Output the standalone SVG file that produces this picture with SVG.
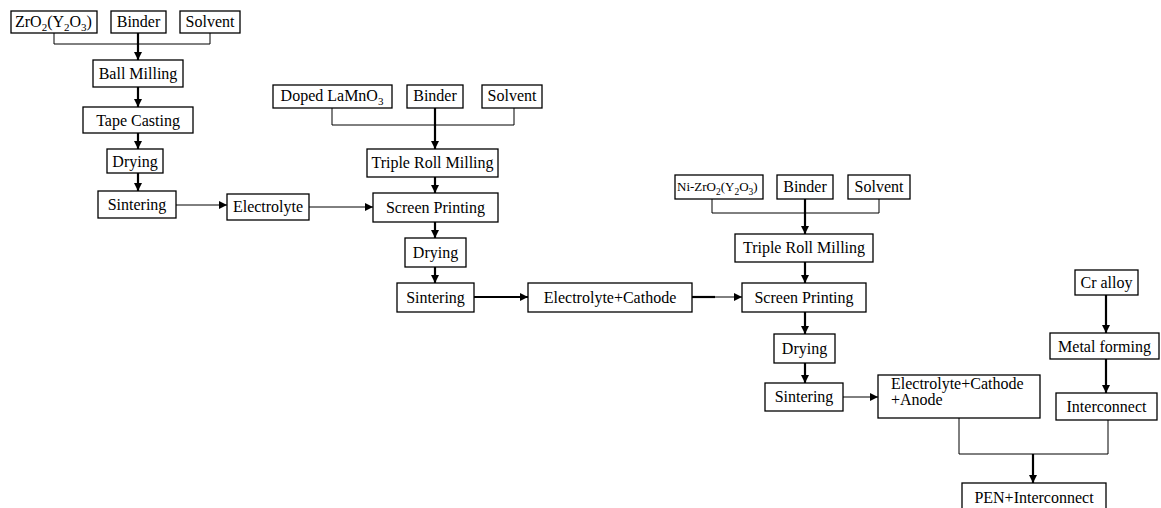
<svg xmlns="http://www.w3.org/2000/svg" width="1161" height="508" viewBox="0 0 1161 508">
<defs>
<style>
.box{fill:#fff;stroke:#000;stroke-width:1.3}
.t{font-family:'Liberation Serif','Times New Roman','DejaVu Serif',serif;font-size:16px;fill:#000}
.c{text-anchor:middle}
.thin{fill:none;stroke:#000;stroke-width:1}
.thick{fill:none;stroke:#000;stroke-width:2.2}
</style>
<marker id="ah" viewBox="0 0 8 8" refX="8" refY="4" markerWidth="8" markerHeight="8" markerUnits="userSpaceOnUse" orient="auto">
<path d="M0,0 L8,4 L0,8 Z" fill="#000"/>
</marker>
</defs>
<rect width="1161" height="508" fill="#fff"/>

<g id="connectors">
<path class="thin" d="M54,33 V44 H210 V33"/>
<path class="thick" d="M138,33 V60" marker-end="url(#ah)"/>
<path class="thick" d="M138,87 V107" marker-end="url(#ah)"/>
<path class="thick" d="M138,133 V149" marker-end="url(#ah)"/>
<path class="thick" d="M138,173 V191" marker-end="url(#ah)"/>
<path class="thin" d="M176,205 H227" marker-end="url(#ah)"/>
<path class="thin" d="M309,207 H373" marker-end="url(#ah)"/>
<path class="thin" d="M332,108 V125 H514 V108"/>
<path class="thick" d="M435,108 V149" marker-end="url(#ah)"/>
<path class="thick" d="M435,177 V193" marker-end="url(#ah)"/>
<path class="thick" d="M435,222 V238" marker-end="url(#ah)"/>
<path class="thick" d="M435,267 V283" marker-end="url(#ah)"/>
<path class="thick" d="M474,297 H528" marker-end="url(#ah)"/>
<path class="thick" d="M692,297 H715"/>
<path class="thin" d="M715,297 H742" marker-end="url(#ah)"/>
<path class="thin" d="M712,199 V213 H879 V199"/>
<path class="thick" d="M805,199 V234" marker-end="url(#ah)"/>
<path class="thick" d="M805,262 V283" marker-end="url(#ah)"/>
<path class="thick" d="M805,312 V334" marker-end="url(#ah)"/>
<path class="thick" d="M805,363 V383" marker-end="url(#ah)"/>
<path class="thin" d="M843,397 H878" marker-end="url(#ah)"/>
<path class="thick" d="M1106,295 V333" marker-end="url(#ah)"/>
<path class="thick" d="M1106,359 V393" marker-end="url(#ah)"/>
<path class="thin" d="M959,418 V454 H1108 V420"/>
<path class="thick" d="M1033,454 V483" marker-end="url(#ah)"/>
</g>

<g id="zro2"><rect class="box" x="11" y="11" width="86" height="22"/><text class="t" x="15" y="27">ZrO<tspan font-size="11" dy="4">2</tspan><tspan dy="-4">(Y</tspan><tspan font-size="11" dy="4">2</tspan><tspan dy="-4">O</tspan><tspan font-size="11" dy="4">3</tspan><tspan dy="-4">)</tspan></text></g>
<g id="binder1"><rect class="box" x="111" y="11" width="55" height="22"/><text class="t c" x="138.5" y="27">Binder</text></g>
<g id="solvent1"><rect class="box" x="180" y="11" width="60" height="22"/><text class="t c" x="210" y="27">Solvent</text></g>
<g id="ballmilling"><rect class="box" x="93" y="60" width="90" height="27"/><text class="t c" x="138" y="79">Ball Milling</text></g>
<g id="tapecasting"><rect class="box" x="83" y="107" width="110" height="26"/><text class="t c" x="138" y="126">Tape Casting</text></g>
<g id="drying1"><rect class="box" x="107" y="149" width="56" height="24"/><text class="t c" x="135" y="167">Drying</text></g>
<g id="sintering1"><rect class="box" x="98" y="191" width="78" height="27"/><text class="t c" x="137" y="210">Sintering</text></g>
<g id="electrolyte"><rect class="box" x="227" y="194" width="82" height="26"/><text class="t c" x="268" y="212">Electrolyte</text></g>

<g id="doped"><rect class="box" x="273" y="85" width="119" height="23"/><text class="t c" x="332" y="101">Doped LaMnO<tspan font-size="11" dy="4">3</tspan></text></g>
<g id="binder2"><rect class="box" x="407" y="85" width="56" height="23"/><text class="t c" x="435" y="101">Binder</text></g>
<g id="solvent2"><rect class="box" x="482" y="85" width="60" height="23"/><text class="t c" x="512" y="101">Solvent</text></g>
<g id="trm1"><rect class="box" x="367" y="149" width="131" height="28"/><text class="t c" x="432.5" y="168">Triple Roll Milling</text></g>
<g id="sp1"><rect class="box" x="373" y="193" width="125" height="29"/><text class="t c" x="435.5" y="213">Screen Printing</text></g>
<g id="drying2"><rect class="box" x="405" y="238" width="61" height="29"/><text class="t c" x="435.5" y="258">Drying</text></g>
<g id="sintering2"><rect class="box" x="397" y="283" width="77" height="29"/><text class="t c" x="435.5" y="303">Sintering</text></g>
<g id="ec"><rect class="box" x="528" y="283" width="164" height="29"/><text class="t c" x="610" y="303">Electrolyte+Cathode</text></g>

<g id="nizro2"><rect class="box" x="675" y="175" width="88" height="24"/><text class="t" x="677" y="191" style="font-size:13px">Ni-ZrO<tspan style="font-size:9.5px" dy="4">2</tspan><tspan dy="-4">(Y</tspan><tspan style="font-size:9.5px" dy="4">2</tspan><tspan dy="-4">O</tspan><tspan style="font-size:9.5px" dy="4">3</tspan><tspan dy="-4">)</tspan></text></g>
<g id="binder3"><rect class="box" x="777" y="175" width="56" height="24"/><text class="t c" x="805" y="192">Binder</text></g>
<g id="solvent3"><rect class="box" x="848" y="175" width="62" height="24"/><text class="t c" x="879" y="192">Solvent</text></g>
<g id="trm2"><rect class="box" x="735" y="234" width="138" height="28"/><text class="t c" x="804" y="253">Triple Roll Milling</text></g>
<g id="sp2"><rect class="box" x="742" y="283" width="124" height="29"/><text class="t c" x="804" y="303">Screen Printing</text></g>
<g id="drying3"><rect class="box" x="774" y="334" width="61" height="29"/><text class="t c" x="804.5" y="354">Drying</text></g>
<g id="sintering3"><rect class="box" x="765" y="383" width="78" height="28"/><text class="t c" x="804" y="402">Sintering</text></g>
<g id="eca"><rect class="box" x="878" y="375" width="162" height="43"/><text class="t" x="891" y="389">Electrolyte+Cathode</text><text class="t" x="891" y="405">+Anode</text></g>

<g id="cralloy"><rect class="box" x="1075" y="270" width="63" height="25"/><text class="t c" x="1106.5" y="288">Cr alloy</text></g>
<g id="metalforming"><rect class="box" x="1050" y="333" width="109" height="26"/><text class="t c" x="1104.5" y="352">Metal forming</text></g>
<g id="interconnect"><rect class="box" x="1056" y="393" width="101" height="27"/><text class="t c" x="1106.5" y="412">Interconnect</text></g>
<g id="pen"><rect class="box" x="962" y="483" width="144" height="30"/><text class="t c" x="1034" y="503">PEN+Interconnect</text></g>
</svg>
